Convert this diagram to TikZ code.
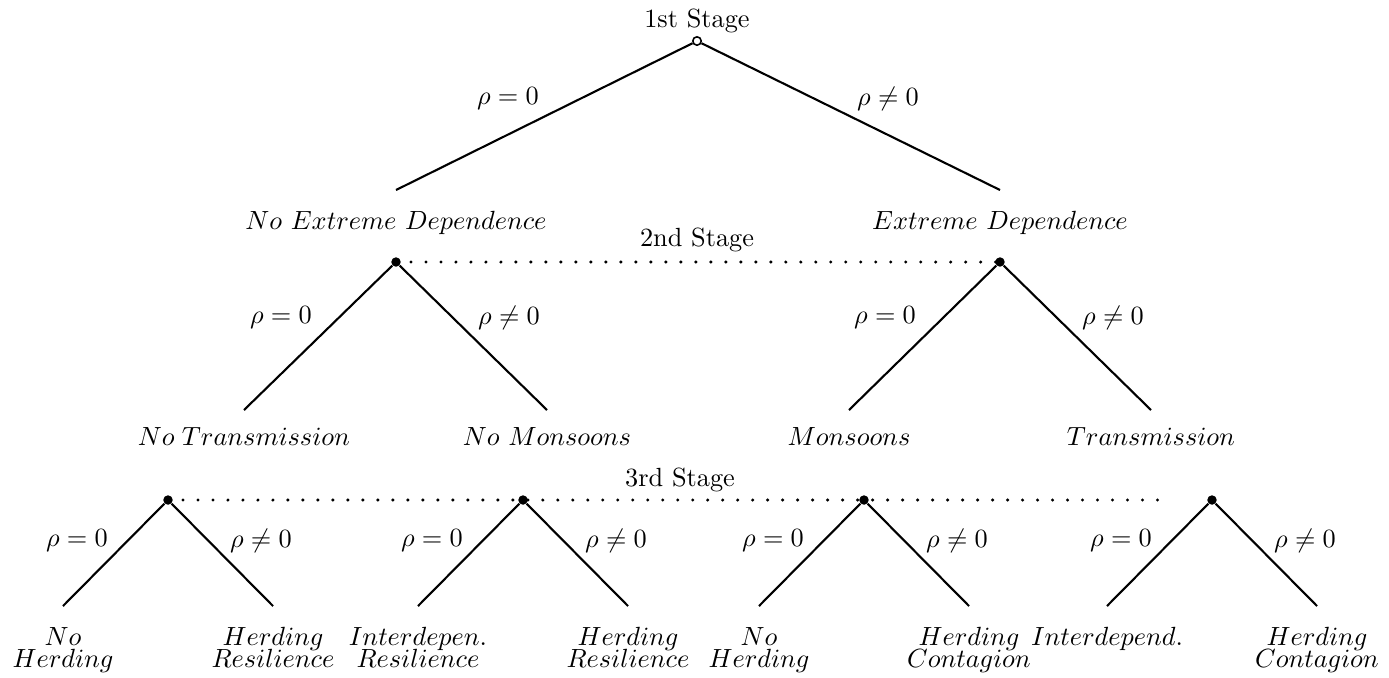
\documentclass[tikz,border=0pt]{standalone}
\begin{document}
\begin{tikzpicture}[x=0.3802pt,y=-0.3802pt,
  edge/.style={line width=0.8pt},
  soliddot/.style={circle,fill=black,inner sep=0pt,minimum size=3.6pt},
  opendot/.style={circle,draw=black,fill=white,line width=0.6pt,inner sep=0pt,minimum size=3.2pt},
  infoset/.style={line width=1.3pt,line cap=round,dash pattern=on 0pt off 5.7pt},
  lbl/.style={inner sep=0pt},
  stagelbl/.style={inner sep=0pt,anchor=base},
  outlbl/.style={inner sep=0pt,anchor=base},
  leaflbl/.style={inner sep=0pt,align=center,anchor=north},
  ]
\useasboundingbox (0,0) rectangle (1389,677);

% ---------- 1st stage ----------
\node[stagelbl] (s1) at (697,27) {1st Stage};
\coordinate (a1) at (396,190);
\coordinate (a2) at (1000,190);
\node[opendot] (r) at (697,41) {};
\draw[edge] (r) -- (a1);
\draw[edge] (r) -- (a2);
\node[lbl] (e1) at (508,99) {$\rho=0$};
\node[lbl] (e2) at (888,99) {$\rho\neq0$};
\node[outlbl] (o1) at (396,229) {$No\ Extreme\ Dependence$};
\node[outlbl] (o2) at (1000,229) {$Extreme\ Dependence$};

% ---------- 2nd stage ----------
\node[stagelbl] (s2) at (697,246) {2nd Stage};
\node[soliddot] (b1) at (396,262) {};
\node[soliddot] (b2) at (1000,262) {};
\draw[infoset] (b1.center) -- (b2.center);
\coordinate (b11) at (244,410);
\coordinate (b12) at (547,410);
\coordinate (b21) at (849,410);
\coordinate (b22) at (1151,410);
\draw[edge] (b1) -- (b11);
\draw[edge] (b1) -- (b12);
\draw[edge] (b2) -- (b21);
\draw[edge] (b2) -- (b22);
\node[lbl] (f1) at (281,318) {$\rho=0$};
\node[lbl] (f2) at (509,318) {$\rho\neq0$};
\node[lbl] (f3) at (885,318) {$\rho=0$};
\node[lbl] (f4) at (1113,318) {$\rho\neq0$};
\node[outlbl] (p1) at (244,445) {$No\;Transmission$};
\node[outlbl] (p2) at (547,445) {$No\ Monsoons$};
\node[outlbl] (p3) at (849,445) {$Monsoons$};
\node[outlbl] (p4) at (1151,445) {$Transmission$};

% ---------- 3rd stage ----------
\node[stagelbl] (s3) at (680,486) {3rd Stage};
\node[soliddot] (c1) at (168,500) {};
\node[soliddot] (c2) at (523,500) {};
\node[soliddot] (c3) at (864,500) {};
\node[soliddot] (c4) at (1212,500) {};
\coordinate (cend) at (1169,500);
\draw[infoset] (c1.center) -- (cend);
\coordinate (d1) at (63,606);
\coordinate (d2) at (273,606);
\coordinate (d3) at (418,606);
\coordinate (d4) at (628,606);
\coordinate (d5) at (759,606);
\coordinate (d6) at (969,606);
\coordinate (d7) at (1107,606);
\coordinate (d8) at (1317,606);
\draw[edge] (c1) -- (d1);
\draw[edge] (c1) -- (d2);
\draw[edge] (c2) -- (d3);
\draw[edge] (c2) -- (d4);
\draw[edge] (c3) -- (d5);
\draw[edge] (c3) -- (d6);
\draw[edge] (c4) -- (d7);
\draw[edge] (c4) -- (d8);
\node[lbl] (g1) at (77,541) {$\rho=0$};
\node[lbl] (g2) at (261,541) {$\rho\neq0$};
\node[lbl] (g3) at (432,541) {$\rho=0$};
\node[lbl] (g4) at (616,541) {$\rho\neq0$};
\node[lbl] (g5) at (773,541) {$\rho=0$};
\node[lbl] (g6) at (957,541) {$\rho\neq0$};
\node[lbl] (g7) at (1121,541) {$\rho=0$};
\node[lbl] (g8) at (1305,541) {$\rho\neq0$};
\node[leaflbl] (h1) at (63,627) {$No$\\[-3.6pt]$Herding$};
\node[leaflbl] (h2) at (273,627) {$Herding$\\[-3.6pt]$Resilience$};
\node[leaflbl] (h3) at (418,627) {$Interdepen.$\\[-3.6pt]$Resilience$};
\node[leaflbl] (h4) at (628,627) {$Herding$\\[-3.6pt]$Resilience$};
\node[leaflbl] (h5) at (759,627) {$No$\\[-3.6pt]$Herding$};
\node[leaflbl] (h6) at (969,627) {$Herding$\\[-3.6pt]$Contagion$};
\node[leaflbl] (h7) at (1107,627) {$Interdepend.$};
\node[leaflbl] (h8) at (1317,627) {$Herding$\\[-3.6pt]$Contagion$};
\end{tikzpicture}
\end{document}
